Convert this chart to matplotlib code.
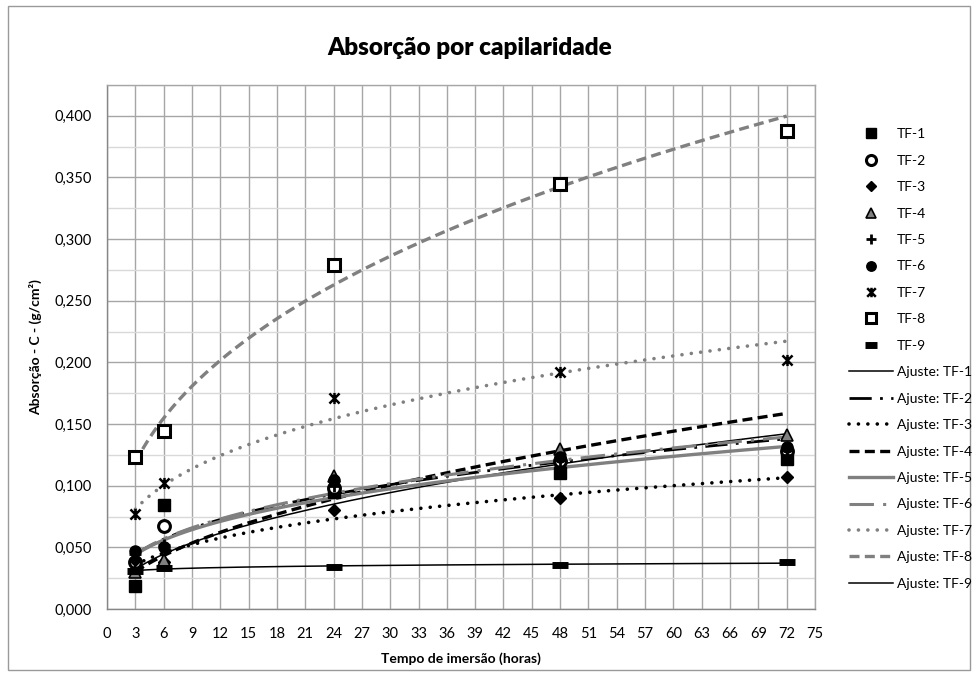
import numpy as np
import matplotlib
matplotlib.use("Agg")
import matplotlib.pyplot as plt
from matplotlib.lines import Line2D
from matplotlib.patches import Rectangle
from matplotlib.path import Path
from matplotlib.ticker import MultipleLocator, FuncFormatter

plt.rcParams['font.family'] = ['Lato', 'DejaVu Sans']

# tempo de imersão (horas)
tempo = [3, 6, 24, 48, 72]

# absorção C (g/cm2) por traço
tf1 = [0.019, 0.084, 0.095, 0.110, 0.122]
tf2 = [0.038, 0.067, 0.098, 0.120, 0.128]
tf3 = [0.040, 0.038, 0.080, 0.090, 0.107]
tf4 = [0.030, 0.040, 0.108, 0.130, 0.141]
tf5 = [0.045, 0.052, 0.100, 0.115, 0.125]
tf6 = [0.047, 0.050, 0.105, 0.123, 0.131]
tf7 = [0.077, 0.102, 0.171, 0.192, 0.202]
tf8 = [0.123, 0.144, 0.279, 0.345, 0.388]
tf9 = [0.031, 0.033, 0.034, 0.036, 0.038]

nomes = ["TF-1", "TF-2", "TF-3", "TF-4", "TF-5", "TF-6", "TF-7", "TF-8", "TF-9"]
series = [tf1, tf2, tf3, tf4, tf5, tf6, tf7, tf8, tf9]

GREY = "#808080"

# excel "star" marker: an x with a vertical bar
estrela = Path([(-1, -1), (1, 1), (-1, 1), (1, -1), (0, -1.1), (0, 1.1)],
               [Path.MOVETO, Path.LINETO, Path.MOVETO, Path.LINETO,
                Path.MOVETO, Path.LINETO])

# marker styles: (marker, size, facecolor, edgecolor, edgewidth)
marcadores = [
    ("s", 8, "black", "black", 1),
    ("o", 8.5, "white", "black", 2.2),
    ("D", 6.5, "black", "black", 1),
    ("^", 8.5, GREY, "black", 1.2),
    ("+", 9, "black", "black", 2),
    ("o", 8, "black", "black", 1),
    (estrela, 8, "black", "black", 1.8),
    ("s", 9, "white", "black", 2.2),
    ("_", 11, "black", "black", 5),
]

# trendline styles: (color, linewidth, dashes)
dot = (0, (0.01, 2.6))
estilos = [
    ("black", 1.1, "-"),
    ("black", 2.0, (0, (8, 3, 1, 3))),
    ("black", 2.6, dot),
    ("black", 2.4, (0, (3, 1.6))),
    (GREY, 2.4, "-"),
    (GREY, 2.2, (0, (8, 3, 1, 3))),
    (GREY, 2.6, dot),
    (GREY, 2.4, (0, (3, 1.6))),
    ("black", 1.1, "-"),
]


def ajuste_potencia(x, y):
    # same as excel power trendline: ln y = ln c + p ln x
    p, lnc = np.polyfit(np.log(x), np.log(y), 1)
    return np.exp(lnc), p


fig = plt.figure(figsize=(9.78, 6.76), dpi=100)
ax = fig.add_axes([107 / 978, 1 - 609 / 676, (815 - 107) / 978, (609 - 85) / 676])

fig.patches.append(Rectangle((8 / 978, 6 / 676), 962 / 978, 664 / 676,
                             transform=fig.transFigure, fill=False,
                             edgecolor="#9a9a9a", lw=1))

x = np.array(tempo, dtype=float)
xs = np.linspace(3, 72, 300)

handles_pts = []
handles_lin = []
for nome, ys, mk in zip(nomes, series, marcadores):
    m, ms, fc, ec, mew = mk
    ax.plot(x, ys, linestyle="none", marker=m, markersize=ms,
            markerfacecolor=fc, markeredgecolor=ec, markeredgewidth=mew,
            zorder=4)
    handles_pts.append(Line2D([], [], linestyle="none", marker=m, markersize=ms * 0.85,
                              markerfacecolor=fc, markeredgecolor=ec,
                              markeredgewidth=mew, label=nome))

for nome, ys, st in zip(nomes, series, estilos):
    cor, lw, ls = st
    c, p = ajuste_potencia(x, np.array(ys))
    cap = "round" if ls == dot else "butt"
    ax.plot(xs, c * xs ** p, color=cor, lw=lw, linestyle=ls,
            dash_capstyle=cap, zorder=3)
    handles_lin.append(Line2D([], [], color=cor, lw=lw, linestyle=ls,
                              dash_capstyle=cap, label="Ajuste: " + nome))

ax.set_xlim(0, 75)
ax.set_ylim(0, 0.425)
ax.xaxis.set_major_locator(MultipleLocator(3))
ax.yaxis.set_major_locator(MultipleLocator(0.05))
ax.yaxis.set_minor_locator(MultipleLocator(0.025))
ax.yaxis.set_major_formatter(FuncFormatter(
    lambda v, pos: ("%.3f" % v).replace(".", ",") if v <= 0.4001 else ""))

ax.grid(which="major", axis="both", color="#a6a6a6", lw=1)
ax.grid(which="minor", axis="y", color="#d9d9d9", lw=1)
ax.set_axisbelow(True)
for s in ax.spines.values():
    s.set_color("#a6a6a6")
    s.set_linewidth(1)
ax.spines["left"].set_color("#868686")
ax.spines["bottom"].set_color("#868686")
ax.tick_params(which="both", length=0, labelsize=10.5, colors="black")
ax.tick_params(axis="y", pad=11)
ax.tick_params(axis="x", pad=13)

ax.set_xlabel("Tempo de imersão (horas)", fontsize=10, fontweight="bold", labelpad=8)
ax.set_ylabel("Absorção - C - (g/cm²)", fontsize=10, fontweight="bold", labelpad=9)

fig.text(0.48, 0.929, "Absorção por capilaridade", ha="center", va="center",
         fontsize=17.5, fontweight="heavy")

fig.legend(handles=handles_pts + handles_lin, loc="center left",
           bbox_to_anchor=(0.862, 0.469), frameon=False, fontsize=10,
           handlelength=3.2, handletextpad=0.3, labelspacing=1.04,
           borderaxespad=0)

fig.savefig("out.png", dpi=100)
